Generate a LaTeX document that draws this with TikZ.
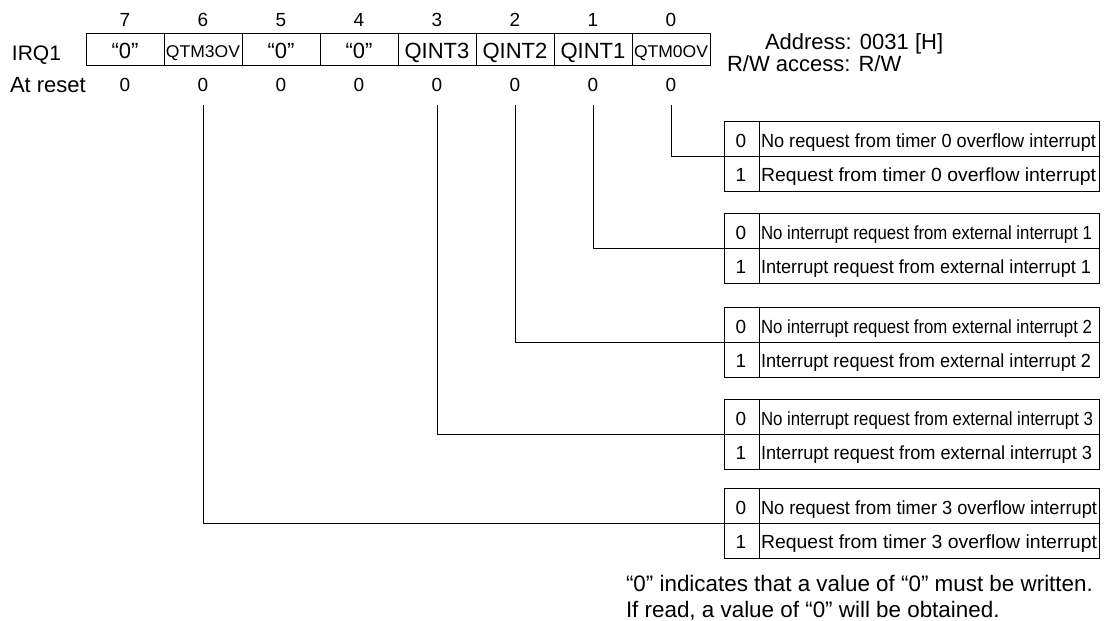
\documentclass[tikz,border=0pt]{standalone}
\usepackage{fontspec}
\setmainfont{Liberation Sans}
\usepackage{graphicx}
\newcommand\fsz[1]{\fontsize{#1}{#1}\selectfont}
\newcommand\fitw[2]{\resizebox{#1}{\height}{#2}}
\begin{document}
\begin{tikzpicture}[x=1pt,y=-1pt,
  lbl/.style={inner sep=0pt, outer sep=0pt, anchor=base},
  lblw/.style={inner sep=0pt, outer sep=0pt, anchor=base west},
  regcell/.style={draw, line width=1pt, minimum width=78pt, minimum height=32pt, inner sep=0pt, outer sep=0pt},
  tblrow/.style={draw, line width=1pt, minimum width=375pt, minimum height=35pt, inner sep=0pt, outer sep=0pt},
  conn/.style={line width=1pt},
  big/.style={font=\fsz{22}},
  mid/.style={font=\fsz{19}}]
\useasboundingbox (0,0) rectangle (1104,621);

% register cells
\foreach \b/\x in {7/125,6/203,5/281,4/359,3/437,2/515,1/593,0/671}{
  \node[regcell] (c\b) at (\x,49) {};
  \node[lbl,mid] (b\b) at (\x,27) {\b};
  \node[lbl,mid] (r\b) at (\x,91) {0};
}
\node[lbl,big] (n7) at (c7.center |- 0,58.5) {“0”};
\node[lbl] (n6) at (c6.center |- 0,57) {\fitw{74pt}{\fsz{17}QTM3OV}};
\node[lbl,big] (n5) at (c5.center |- 0,58.5) {“0”};
\node[lbl,big] (n4) at (c4.center |- 0,58.5) {“0”};
\node[lbl,big] (n3) at (c3.center |- 0,58.5) {QINT3};
\node[lbl,big] (n2) at (c2.center |- 0,58.5) {QINT2};
\node[lbl,big] (n1) at (c1.center |- 0,58.5) {QINT1};
\node[lbl] (n0) at (c0.center |- 0,57) {\fitw{74pt}{\fsz{17}QTM0OV}};

\node[lblw,font=\fsz{21}] (irq) at (12,60) {IRQ1};
\node[lblw,big] (atr) at (10,92) {At reset};

\node[lblw,big] (addr) at (765,49) {Address: 0031 [H]};
\node[lblw,big] (rw) at (727,71) {R/W access: R/W};

% tables
\foreach \t/\top/\wa/\wb/\ta/\tb in {
  0/121/335pt/335pt/{No request from timer 0 overflow interrupt}/{Request from timer 0 overflow interrupt},
  1/213/331pt/330pt/{No interrupt request from external interrupt 1}/{Interrupt request from external interrupt 1},
  2/307/331pt/330pt/{No interrupt request from external interrupt 2}/{Interrupt request from external interrupt 2},
  3/399/332pt/331pt/{No interrupt request from external interrupt 3}/{Interrupt request from external interrupt 3},
  4/488/336pt/336pt/{No request from timer 3 overflow interrupt}/{Request from timer 3 overflow interrupt}}{
  \node[tblrow] (t\t a) at (911.5,\top+17.5) {};
  \node[tblrow] (t\t b) at (911.5,\top+52.5) {};
  \draw[conn] ([xshift=35pt]t\t a.north west) -- ([xshift=35pt]t\t b.south west);
  \node[lbl,mid] (d\t a) at (741,\top+26) {0};
  \node[lbl,mid] (d\t b) at (741,\top+60.5) {1};
  \node[lblw,mid] (x\t a) at (761,\top+26) {\fitw{\wa}{\ta}};
  \node[lblw,mid] (x\t b) at (761,\top+60.5) {\fitw{\wb}{\tb}};
}

% connectors
\draw[conn] ([yshift=-14pt]r0.base) |- (t0a.south west);
\draw[conn] ([yshift=-14pt]r1.base) |- (t1a.south west);
\draw[conn] ([yshift=-14pt]r2.base) |- (t2a.south west);
\draw[conn] ([yshift=-14pt]r3.base) |- (t3a.south west);
\draw[conn] ([yshift=-14pt]r6.base) |- (t4a.south west);

% footer
\node[lblw,font=\fsz{22.4}] (f1) at (626,591) {“0” indicates that a value of “0” must be written.};
\node[lblw,font=\fsz{22.4}] (f2) at (626,617) {If read, a value of “0” will be obtained.};
\end{tikzpicture}
\end{document}
